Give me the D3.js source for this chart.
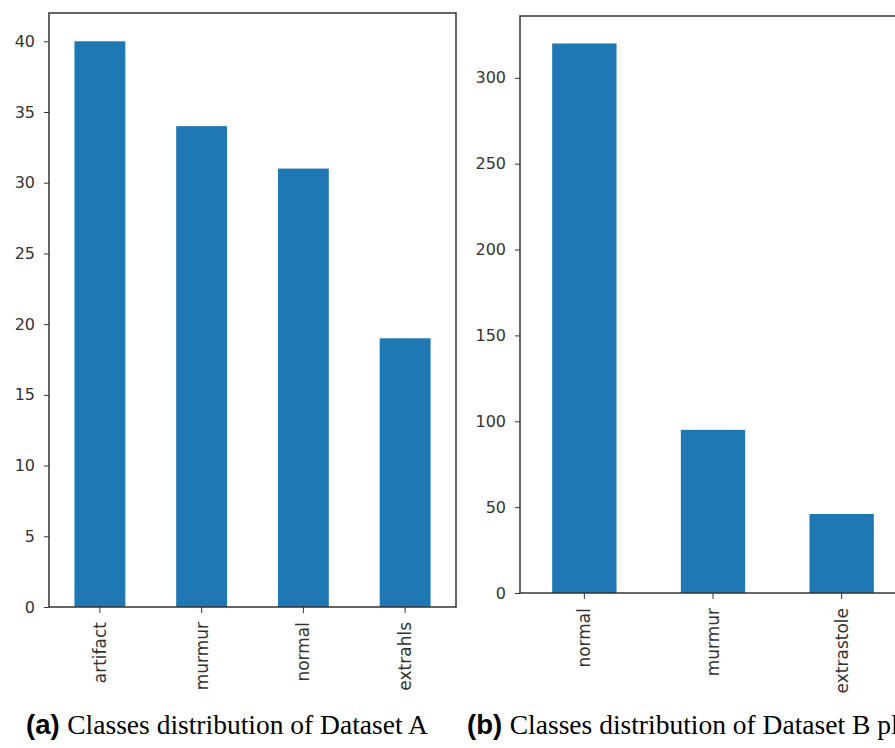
<!DOCTYPE html>
<html>
<head>
<meta charset="utf-8">
<script src="https://cdn.jsdelivr.net/npm/d3@7"></script>
<style>
  body { margin: 0; background: #fff; }
  .tick text { font-family: "DejaVu Sans", sans-serif; font-size: 16px; fill: #333; }
  .xax .tick text { font-size: 17px; }
  .tick line { stroke: #333; }
  .domain { display: none; }
</style>
</head>
<body>
<div id="chart"></div>
<script>
// dataset A
const classesA = ['artifact', 'murmur', 'normal', 'extrahls'];
const countsA = [40, 34, 31, 19];
const ticksA = [0, 5, 10, 15, 20, 25, 30, 35, 40];

// dataset B
const classesB = ['normal', 'murmur', 'extrastole'];
const countsB = [320, 95, 46];
const ticksB = [0, 50, 100, 150, 200, 250, 300];

var width = 895,
    height = 748;

var svg = d3.select('#chart')
    .append('svg')
    .attr('width', width)
    .attr('height', height);

function drawPanel(cats, vals, ticks, box) {
    var x = d3.scaleBand()
        .domain(cats)
        .range([box.left, box.right])
        .paddingInner(0.5)
        .paddingOuter(0.25);

    var y = d3.scaleLinear()
        .domain([0, d3.max(vals) * 1.05])
        .range([box.bottom, box.top]);

    var g = svg.append('g');

    g.selectAll('rect.bar')
        .data(vals)
        .enter()
        .append('rect')
        .attr('class', 'bar')
        .attr('x', (d, i) => x(cats[i]))
        .attr('y', d => y(d))
        .attr('width', x.bandwidth())
        .attr('height', d => box.bottom - y(d))
        .style('fill', '#1f77b4');

    // frame
    g.append('rect')
        .attr('x', box.left)
        .attr('y', box.top)
        .attr('width', box.right - box.left)
        .attr('height', box.bottom - box.top)
        .attr('fill', 'none')
        .attr('stroke', '#333')
        .attr('stroke-width', 1.5);

    g.append('g')
        .attr('transform', 'translate(' + box.left + ',0)')
        .call(d3.axisLeft(y).tickValues(ticks).tickSize(5).tickPadding(9));

    var xa = g.append('g')
        .attr('class', 'xax')
        .attr('transform', 'translate(0,' + box.bottom + ')')
        .call(d3.axisBottom(x).tickSize(6));
    xa.selectAll('text')
        .attr('transform', 'rotate(-90)')
        .attr('text-anchor', 'end')
        .attr('x', -15)
        .attr('y', 0)
        .attr('dy', '0.35em');
}

drawPanel(classesA, countsA, ticksA, {left: 49, right: 456, top: 13, bottom: 607});
drawPanel(classesB, countsB, ticksB, {left: 520, right: 906, top: 16, bottom: 593});

// captions
function caption(x, tag, txt) {
    var t = svg.append('text')
        .attr('x', x)
        .attr('y', 734);
    t.append('tspan')
        .style('font-family', '"Liberation Sans", Arial, sans-serif')
        .style('font-weight', 'bold')
        .style('font-size', '27.5px')
        .text(tag + ' ');
    t.append('tspan')
        .style('font-family', '"Liberation Serif", "Times New Roman", serif')
        .style('font-size', '27.5px')
        .text(txt);
}
caption(26, '(a)', 'Classes distribution of Dataset A');
caption(467, '(b)', 'Classes distribution of Dataset B plot');
</script>
</body>
</html>
